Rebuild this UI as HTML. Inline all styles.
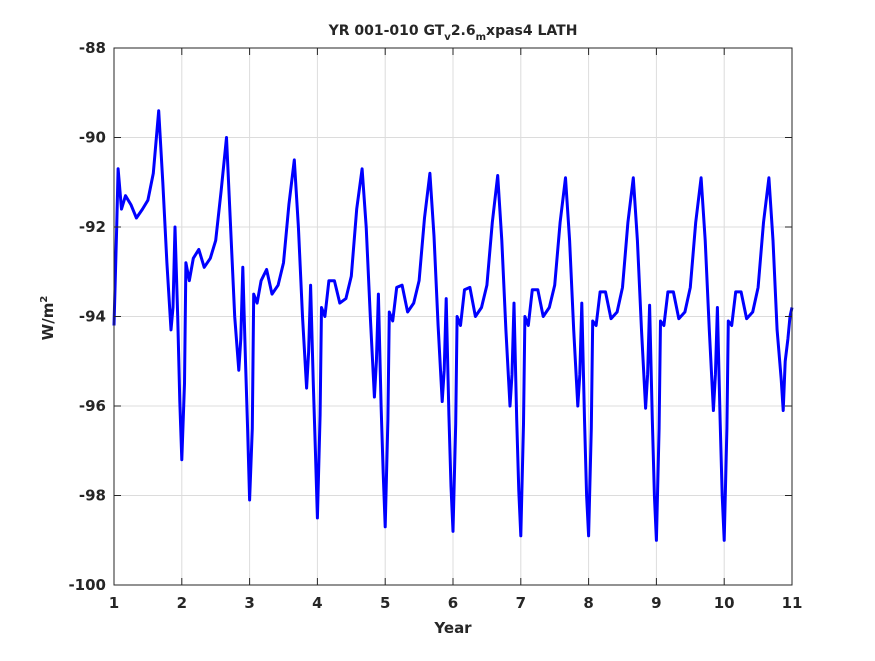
<!DOCTYPE html>
<html><head><meta charset="utf-8"><style>
body{margin:0;background:#fff;}
svg text{font-family:"DejaVu Sans","Liberation Sans",sans-serif;font-weight:bold;fill:#262626;}
</style></head><body>
<svg id="chart" width="875" height="656" viewBox="0 0 875 656" xmlns="http://www.w3.org/2000/svg">
<rect width="875" height="656" fill="#fff"/>
<rect x="114" y="48" width="678" height="537" fill="#fff"/>
<g id="grid"></g>
<g id="series"></g>
<rect x="114" y="48" width="678" height="537" fill="none" stroke="#262626" stroke-width="1"/>
<g id="ticks"></g>
<text x="453" y="35" font-size="14" text-anchor="middle">YR 001-010 GT<tspan font-size="10" dy="5">v</tspan><tspan dy="-5">2.6</tspan><tspan font-size="10" dy="5">m</tspan><tspan dy="-5">xpas4 LATH</tspan></text>
<text x="453" y="633" font-size="15" text-anchor="middle">Year</text>
<text transform="translate(53,318) rotate(-90)" font-size="15" text-anchor="middle">W/m<tspan font-size="10" dy="-6">2</tspan></text>
</svg>
<script>
const xTicks=[1,2,3,4,5,6,7,8,9,10,11];
const yTicks=[-88,-90,-92,-94,-96,-98,-100];
const years=[1,2,3,4,5,6,7,8,9,10];
const offsets=[0,0.04,0.06,0.11,0.17,0.25,0.33,0.42,0.50,0.58,0.66,0.72,0.78,0.84,0.87,0.90,0.94,0.97];
const y1=[-94.2,-92.0,-90.7,-91.6,-91.3,-91.5,-91.8,-91.6,-91.4,-90.8,-89.4,-91.0,-92.8,-94.3,-93.8,-92.0,-94.0,-95.9];
const y2=[-97.2,-95.5,-92.8,-93.2,-92.7,-92.5,-92.9,-92.7,-92.3,-91.2,-90.0,-92.0,-94.0,-95.2,-94.5,-92.9,-95.0,-96.5];
const y3=[-98.1,-96.5,-93.5,-93.7,-93.2,-92.95,-93.5,-93.3,-92.8,-91.5,-90.5,-92.0,-94.0,-95.6,-94.8,-93.3,-95.5,-97.0];
const y4=[-98.5,-96.2,-93.8,-94.0,-93.2,-93.2,-93.7,-93.6,-93.1,-91.6,-90.7,-92.0,-94.0,-95.8,-95.0,-93.5,-96.0,-97.5];
const y5=[-98.7,-96.3,-93.9,-94.1,-93.35,-93.3,-93.9,-93.7,-93.2,-91.8,-90.8,-92.2,-94.2,-95.9,-95.2,-93.6,-96.2,-97.8];
const y6=[-98.8,-96.4,-94.0,-94.2,-93.4,-93.35,-94.0,-93.8,-93.3,-91.9,-90.85,-92.3,-94.3,-96.0,-95.3,-93.7,-96.3,-97.9];
const y7=[-98.9,-96.4,-94.0,-94.2,-93.4,-93.4,-94.0,-93.8,-93.3,-91.9,-90.9,-92.3,-94.3,-96.0,-95.3,-93.7,-96.3,-98.0];
const y8=[-98.9,-96.5,-94.1,-94.2,-93.45,-93.45,-94.05,-93.9,-93.35,-91.9,-90.9,-92.3,-94.3,-96.05,-95.3,-93.75,-96.3,-98.0];
const y9=[-99.0,-96.5,-94.1,-94.2,-93.45,-93.45,-94.05,-93.9,-93.35,-91.9,-90.9,-92.3,-94.3,-96.1,-95.3,-93.8,-96.3,-98.0];
const y10=[-99.0,-96.5,-94.1,-94.2,-93.45,-93.45,-94.05,-93.9,-93.35,-91.9,-90.9,-92.3,-94.3,-95.4,-96.1,-95.0,-94.5,-94.0];
const finalPoint={x:11,y:-93.8};
const yearValues=[y1,y2,y3,y4,y5,y6,y7,y8,y9,y10];

const X0=114,X1=792,Y0=48,Y1=585;
const xs=v=>X0+(v-1)/(11-1)*(X1-X0);
const ys=v=>Y0+(-88-v)/12*(Y1-Y0);
const NS="http://www.w3.org/2000/svg";
const grid=document.getElementById('grid'),ticks=document.getElementById('ticks'),series=document.getElementById('series');
function mk(tag,attrs,parent){const e=document.createElementNS(NS,tag);for(const k in attrs)e.setAttribute(k,attrs[k]);parent.appendChild(e);return e;}
xTicks.forEach(t=>{
  const g=mk('line',{x1:xs(t),x2:xs(t),y1:Y0,y2:Y1,stroke:'#dcdcdc','stroke-width':1},grid);
  
  
  const tk=mk('line',{x1:xs(t),x2:xs(t),y1:Y1,y2:Y1-7,stroke:'#262626'},ticks);
  
  
  const tk2=mk('line',{x1:xs(t),x2:xs(t),y1:Y0,y2:Y0+7,stroke:'#262626'},ticks);
  
  
  const l=mk('text',{x:xs(t),y:608,'font-size':15,'text-anchor':'middle'},ticks);
  l.textContent=t;
  
  
});
yTicks.forEach(t=>{
  const g=mk('line',{x1:X0,x2:X1,y1:ys(t),y2:ys(t),stroke:'#dcdcdc','stroke-width':1},grid);
  
  
  const tk=mk('line',{x1:X0,x2:X0+7,y1:ys(t),y2:ys(t),stroke:'#262626'},ticks);
  
  
  const tk2=mk('line',{x1:X1,x2:X1-7,y1:ys(t),y2:ys(t),stroke:'#262626'},ticks);
  
  
  const l=mk('text',{x:106,y:ys(t)+5,'font-size':15,'text-anchor':'end'},ticks);
  l.textContent=t;
  
  
});
const pts=[];
years.forEach((yr,i)=>{offsets.forEach((o,j)=>{pts.push([xs(yr+o),ys(yearValues[i][j])]);});});
pts.push([xs(finalPoint.x),ys(finalPoint.y)]);
const path=mk('polyline',{points:pts.map(p=>p[0].toFixed(1)+','+p[1].toFixed(1)).join(' '),fill:'none',stroke:'#0000ff','stroke-width':3,'stroke-linejoin':'round'},series);


</script>
</body></html>
